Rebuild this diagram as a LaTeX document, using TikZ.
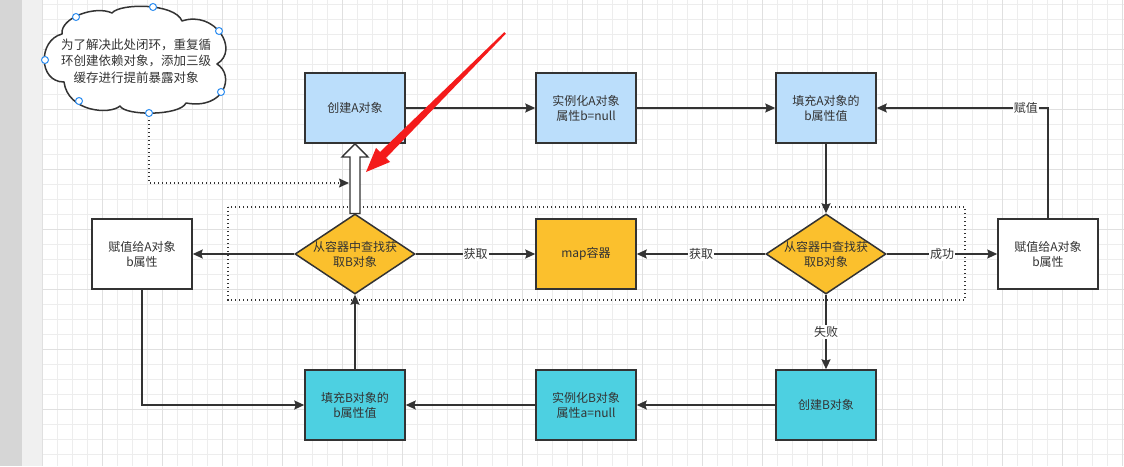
\documentclass[tikz,border=0pt]{standalone}
\usepackage{fontspec}
\setmainfont{Noto Sans CJK SC}
\usetikzlibrary{shapes.geometric,arrows.meta}
\definecolor{ink}{HTML}{333333}
\definecolor{lblue}{HTML}{BBDEFB}
\definecolor{cyanb}{HTML}{4DD0E1}
\definecolor{yel}{HTML}{FBC02D}
\definecolor{gridmin}{HTML}{EDEDED}
\definecolor{gridmaj}{HTML}{E0E0E0}
\definecolor{handle}{HTML}{2B8CF0}
\definecolor{redarr}{HTML}{F41B1B}
\tikzset{
  box/.style={draw=ink, line width=1.5pt, minimum width=100pt, minimum height=70pt, inner sep=0pt, align=center, font=\fontsize{12}{15}\selectfont, text=ink},
  dia/.style={diamond, draw=ink, line width=1.5pt, minimum width=120pt, minimum height=80pt, inner sep=0pt, fill=yel},
  diatext/.style={align=center, font=\fontsize{12}{15}\selectfont, text=ink},
  arr/.style={draw=ink, line width=1.5pt, -{Stealth[length=10pt,width=9pt,inset=1.5pt]}},
  lbl/.style={fill=white, inner sep=1pt, font=\fontsize{12}{14}\selectfont, text=ink},
  hdl/.style={circle, draw=handle, fill=white, line width=1pt, minimum size=7pt, inner sep=0pt},
}
\begin{document}
\begin{tikzpicture}[x=1pt,y=-1pt]
\useasboundingbox (0,0) rectangle (1124,466);
% background
\fill[white] (0,0) rectangle (1124,466);
\fill[black!16] (0,0) rectangle (22,466);
\fill[black!6] (22,0) rectangle (42,466);
\foreach \x in {57,72,...,1124} \draw[gridmin, line width=0.8pt] (\x,0) -- (\x,466);
\foreach \y in {4,19,...,466} \draw[gridmin, line width=0.8pt] (42,\y) -- (1124,\y);
\foreach \x in {42,102,...,1124} \draw[gridmaj, line width=0.9pt] (\x,0) -- (\x,466);
\foreach \y in {49,109,...,466} \draw[gridmaj, line width=0.9pt] (42,\y) -- (1124,\y);

% dotted group box
\draw[ink, line width=1.4pt, dash pattern=on 1.4pt off 2.6pt] (228,207) rectangle (965,300);

% boxes
\node[box, fill=lblue] (cA) at (355,108) {创建A对象};
\node[box, fill=lblue] (iA) at (586,108) {实例化A对象\\属性b=null};
\node[box, fill=lblue] (fA) at (826,108) {填充A对象的\\b属性值};
\node[box, fill=yel] (map) at (586,254) {map容器};
\node[box, fill=white] (rB) at (1048,254) {赋值给A对象\\b属性};
\node[box, fill=white] (lB) at (142,254) {赋值给A对象\\b属性};
\node[box, fill=cyanb] (fB) at (355,405) {填充B对象的\\b属性值};
\node[box, fill=cyanb] (iB) at (586,405) {实例化B对象\\属性a=null};
\node[box, fill=cyanb] (cB) at (826,405) {创建B对象};
\node[dia] (dL) at (355,254) {};
\node[diatext] (dLt) at (dL.center) {从容器中查找获\\取B对象};
\node[dia] (dR) at (826,254) {};
\node[diatext] (dRt) at (dR.center) {从容器中查找获\\取B对象};

% connectors
\draw[arr] (cA.east) -- (iA.west);
\draw[arr] (iA.east) -- (fA.west);
\draw[arr] (fA.south) -- (dR.north);
\draw[arr] (dR.west) -- node[lbl]{获取} (map.east);
\draw[arr] (dR.east) -- node[lbl]{成功} (rB.west);
\draw[arr] (dR.south) -- node[lbl]{失败} (cB.north);
\draw[arr] (rB.north) |- node[lbl, pos=0.565]{赋值} (fA.east);
\draw[arr] (cB.west) -- (iB.east);
\draw[arr] (iB.west) -- (fB.east);
\draw[arr] (fB.north) -- (dL.south);
\draw[arr] (dL.east) -- node[lbl]{获取} (map.west);
\draw[arr] (dL.west) -- (lB.east);
\draw[arr] (lB.south) |- (fB.west);

% hollow block arrow from diamond to create A
\draw[ink, fill=white, line width=1.4pt, line join=miter]
  (cA.south) -- (368,157) -- (360,157) -- (360,213.5) -- (350,213.5) -- (350,157) -- (342,157) -- cycle;

% cloud note
\draw[ink, fill=white, line width=1.5pt, line join=round]
  (62,34) .. controls (60,18) and (95,5) .. (112,13)
  .. controls (120,3) and (175,3) .. (182,21)
  .. controls (215,10) and (240,50) .. (217,64)
  .. controls (235,75) and (225,110) .. (186,103)
  .. controls (180,116) and (125,116) .. (120,106)
  .. controls (110,115) and (68,112) .. (64,82)
  .. controls (38,82) and (38,40) .. (62,34) -- cycle;
\node[align=center, font=\fontsize{12.5}{16.5}\selectfont, text=ink] (clt) at (136,61)
  {为了解决此处闭环，重复循\\环创建依赖对象，添加三级\\缓存进行提前暴露对象};
\node[hdl] (h1) at (76,17) {};
\node[hdl] (h2) at (153,7) {};
\node[hdl] (h3) at (219,31) {};
\node[hdl] (h4) at (45,60) {};
\node[hdl] (h5) at (221,92) {};
\node[hdl] (h6) at (79,101) {};
\coordinate (ha) at (349,183);
\draw[ink, line width=1.4pt, dash pattern=on 1.4pt off 2.6pt, -{Stealth[length=10pt,width=9pt,inset=1.5pt]}] (149,116) |- (ha);
\node[hdl] (h7) at (149,113) {};

% red pointer arrow
\fill[redarr] (505.8,33.8) -- (386,158) -- (390,162) -- (366,172) -- (376,148) -- (380,152) -- (504.2,32.2) -- cycle;
\end{tikzpicture}
\end{document}
